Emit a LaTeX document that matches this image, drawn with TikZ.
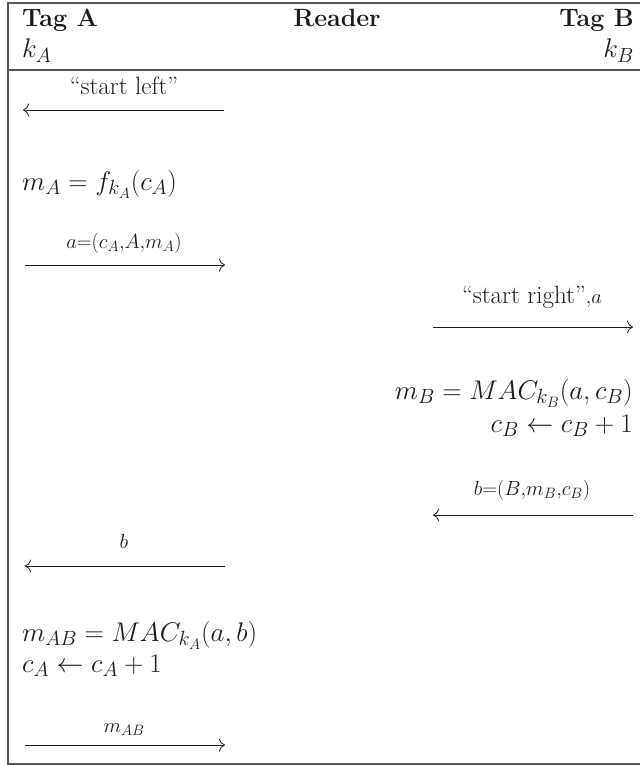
\documentclass[tikz,border=0pt]{standalone}
\usepackage{fix-cm}
\usepackage{amsmath}
\usepackage{xcolor}
\usetikzlibrary{arrows.meta}
\definecolor{Ink}{HTML}{1C1C1C}
\definecolor{Rule}{HTML}{555555}
\DeclareMathSizes{25}{27}{20.5}{15}

\begin{document}
\begin{tikzpicture}[x=1pt,y=-1pt,every node/.style={font=\fontsize{25}{30}\selectfont,text=Ink,inner sep=0pt},
  hdr/.style={font=\fontsize{25}{30}\selectfont\bfseries},msg/.style={-{To[length=6pt,width=13pt]},Ink,line width=0.8pt}]
\useasboundingbox (0,0) rectangle (640,765);
\draw[Rule,line width=1.2pt] (640,3)--(8,3)--(8,764)--(640,764);
\draw[Rule,line width=1.2pt] (8,70)--(640,70);
\node[hdr,anchor=base west] (tagA) at (22,27) {Tag A};
\node[hdr,anchor=base] (rdr) at (337,27) {Reader};
\node[hdr,anchor=base east] (tagB) at (634,27) {Tag B};
\node[anchor=base west] (kA) at (22,58) {$k_A$};\node[anchor=base east] (kB) at (634,58) {$k_B$};
% first round: tag A
\node[anchor=base] (lstart) at (124,95) {``start left''};
\coordinate (m1r) at (224,110);\coordinate (m1l) at (23,110);\draw[msg] (m1r)--(m1l);
\node[anchor=base west] (mA) at (22,190) {$m_A = f_{k_A}(c_A)$};
\node[anchor=base] (la) at (124,248) {$\scriptstyle a=(c_A,A,m_A)$};
\coordinate (m2l) at (25,265);\coordinate (m2r) at (225,265);\draw[msg] (m2l)--(m2r);
% tag B
\node[anchor=base] (rstart) at (532,303) {``start right''$\scriptstyle ,a$};
\coordinate (m3l) at (433,327);\coordinate (m3r) at (633,327);\draw[msg] (m3l)--(m3r);
\node[anchor=base east] (mB) at (633,399) {$m_B = MAC_{k_B}(a,c_B)$};
\node[anchor=base east] (cB) at (633,432) {$c_B \leftarrow c_B+1$};
\node[anchor=base] (lb) at (532,495) {$\scriptstyle b=(B,m_B,c_B)$};
\coordinate (m4r) at (633,515);\coordinate (m4l) at (433,515);\draw[msg] (m4r)--(m4l);
% back to tag A
\node[anchor=base] (lbb) at (124,548) {$\scriptstyle b$};
\coordinate (m5r) at (225,566);\coordinate (m5l) at (25,566);\draw[msg] (m5r)--(m5l);
\node[anchor=base west] (mAB) at (22,641) {$m_{AB} = MAC_{k_A}(a,b)$};
\node[anchor=base west] (cA) at (22,672) {$c_A \leftarrow c_A+1$};
\node[anchor=base] (lmab) at (124,732) {$\scriptstyle m_{AB}$};
\coordinate (m6l) at (25,745);\coordinate (m6r) at (225,745);\draw[msg] (m6l)--(m6r);
\end{tikzpicture}
\end{document}
